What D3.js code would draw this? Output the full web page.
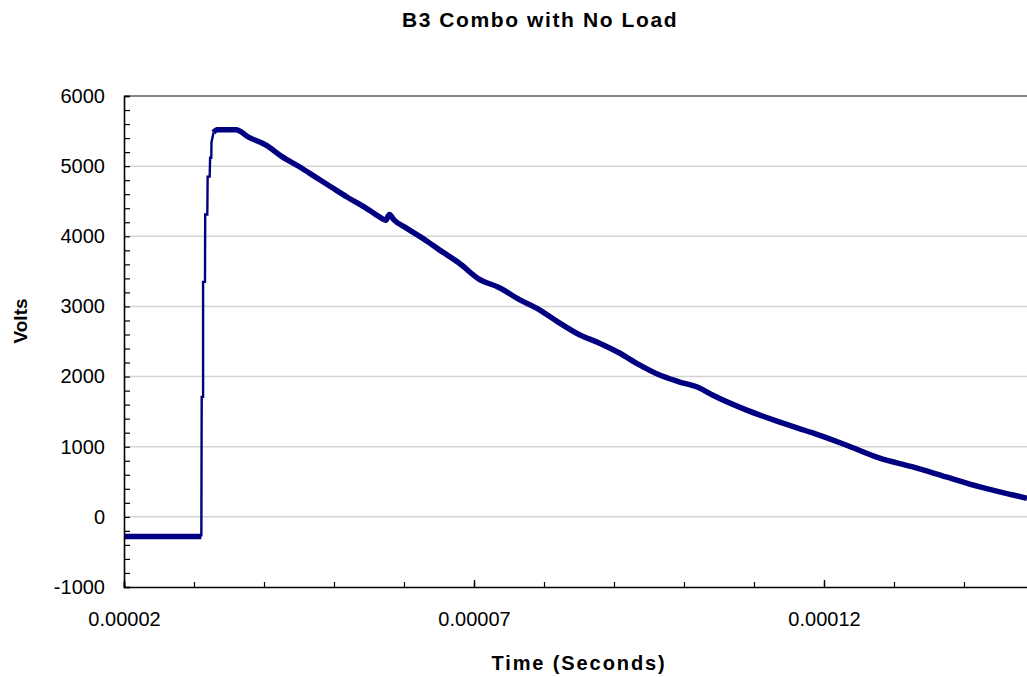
<!DOCTYPE html>
<html>
<head>
<meta charset="utf-8">
<script src="https://cdn.jsdelivr.net/npm/d3@7/dist/d3.min.js"></script>
<style>
  body { margin: 0; background: #fff; }
  svg { display: block; font-family: Arial, "Liberation Sans", sans-serif; }
</style>
</head>
<body>
<svg id="chart" width="1027" height="677"></svg>
<script>
// time in seconds, voltage in volts
var times = [
    20.0e-6, 25.0e-6, 31.05e-6, 31.1e-6, 31.3e-6, 31.3e-6, 31.57e-6, 31.6e-6,
    31.9e-6, 31.95e-6, 32.24e-6, 32.3e-6, 32.47e-6, 32.5e-6, 32.79e-6, 33.3e-6,
    36.0e-6, 37.86e-6, 40.29e-6, 42.57e-6, 45.0e-6, 47.43e-6, 49.71e-6, 51.86e-6,
    54.3e-6, 56.43e-6, 57.4e-6, 57.9e-6, 58.6e-6, 60.29e-6, 63.29e-6, 65.0e-6,
    67.86e-6, 70.71e-6, 73.57e-6, 76.43e-6, 79.29e-6, 82.14e-6, 85.0e-6, 87.86e-6,
    90.71e-6, 93.57e-6, 96.43e-6, 99.29e-6, 102.14e-6, 104.0e-6, 108.86e-6, 113.57e-6,
    118.29e-6, 123.14e-6, 127.86e-6, 132.57e-6, 137.43e-6, 142.14e-6, 146.86e-6, 149.0e-6
];
var volts = [
    -280, -280, -280, 1710, 1710, 3350, 3350, 4310,
    4310, 4850, 4850, 5120, 5120, 5340, 5480, 5520,
    5520, 5410, 5300, 5135, 4995, 4840, 4695, 4560,
    4420, 4280, 4230, 4310, 4230, 4120, 3930, 3810,
    3620, 3390, 3270, 3100, 2955, 2770, 2600, 2480,
    2340, 2170, 2025, 1925, 1840, 1740, 1525, 1355,
    1200, 1025, 840, 715, 570, 430, 315, 265
];
// the sharp rise is drawn thin, the noisy parts as a wide band
var riseStart = 31.05e-6;
var riseEnd = 32.79e-6;

var yTicks = [-1000, 0, 1000, 2000, 3000, 4000, 5000, 6000];
var yMinorStep = 200;
var xLabelTicks = [0.00002, 0.00007, 0.00012];
var xMinorStep = 0.00001;

var title = "B3 Combo with No Load";
var xTitle = "Time (Seconds)";
var yTitle = "Volts";

var svg = d3.select("#chart");
var plotLeft = 124, plotRight = 1034, plotTop = 96, plotBottom = 587;

var x = d3.scaleLinear().domain([0.00002, 0.00015]).range([plotLeft, plotRight]);
var y = d3.scaleLinear().domain([-1000, 6000]).range([plotBottom, plotTop]);

// gridlines
svg.append("g").selectAll("line")
    .data(yTicks.filter(function (d) { return d > -1000; }))
    .enter().append("line")
    .attr("x1", plotLeft).attr("x2", plotRight)
    .attr("y1", function (d) { return y(d); })
    .attr("y2", function (d) { return y(d); })
    .attr("stroke", function (d) { return d === 6000 ? "#858585" : "#d4d4d4"; })
    .attr("stroke-width", function (d) { return d === 6000 ? 2.2 : 1.5; });

// trace
var pts = times.map(function (t, i) { return [t, volts[i]]; });
var line = d3.line()
    .x(function (d) { return x(d[0]); })
    .y(function (d) { return y(d[1]); });
var smooth = d3.line()
    .curve(d3.curveMonotoneX)
    .x(function (d) { return x(d[0]); })
    .y(function (d) { return y(d[1]); });

svg.append("defs").append("clipPath").attr("id", "plotclip")
    .append("rect").attr("x", plotLeft).attr("y", plotTop - 10)
    .attr("width", plotRight - plotLeft).attr("height", plotBottom - plotTop + 10);

var traceG = svg.append("g").attr("clip-path", "url(#plotclip)");
var rise = pts.filter(function (d) { return d[0] >= riseStart && d[0] <= riseEnd + 1e-9; });
traceG.append("path")
    .attr("d", line(rise))
    .attr("fill", "none")
    .attr("stroke", "#000080")
    .attr("stroke-width", 2.4);

var before = pts.filter(function (d) { return d[0] <= riseStart; });
var after = pts.filter(function (d) { return d[0] >= riseEnd; });
[before, after].forEach(function (seg) {
    traceG.append("path")
        .attr("d", smooth(seg))
        .attr("fill", "none")
        .attr("stroke", "#000080")
        .attr("stroke-width", 5.5)
        .attr("stroke-linejoin", "round");
});

// y axis: minor ticks then labels
var yMinor = d3.range(-1000, 6000 + 1, yMinorStep);
svg.append("g")
    .attr("transform", "translate(" + plotLeft + ",0)")
    .call(d3.axisLeft(y).tickValues(yMinor).tickSize(-6).tickFormat(""))
    .call(function (g) {
        g.select(".domain").attr("stroke", "#000").attr("stroke-width", 1.6);
        g.selectAll(".tick line").attr("stroke", "#000").attr("stroke-width", 1.2);
    });
svg.append("g")
    .attr("transform", "translate(" + plotLeft + ",0)")
    .call(d3.axisLeft(y).tickValues(yTicks).tickSize(0).tickPadding(19)
        .tickFormat(function (d) { return String(d); }))
    .call(function (g) {
        g.select(".domain").remove();
        g.selectAll("text").attr("font-size", 20).attr("fill", "#000")
            .attr("font-family", "Arial, 'Liberation Sans', sans-serif");
    });

// x axis
var xMinor = d3.range(0.00002, 0.00015 + 1e-9, xMinorStep);
svg.append("g")
    .attr("transform", "translate(0," + plotBottom + ")")
    .call(d3.axisBottom(x).tickValues(xMinor).tickSize(-5).tickFormat(""))
    .call(function (g) {
        g.select(".domain").attr("stroke", "#000").attr("stroke-width", 1.6);
        g.selectAll(".tick line").attr("stroke", "#000").attr("stroke-width", 1.2);
    });
svg.append("g")
    .attr("transform", "translate(0," + plotBottom + ")")
    .call(d3.axisBottom(x).tickValues(xLabelTicks).tickSize(-7).tickPadding(25)
        .tickFormat(function (d) { return d.toFixed(5); }))
    .call(function (g) {
        g.select(".domain").remove();
        g.selectAll(".tick line").attr("stroke", "#000").attr("stroke-width", 1.4);
        g.selectAll("text").attr("font-size", 20).attr("fill", "#000")
            .attr("font-family", "Arial, 'Liberation Sans', sans-serif");
    });

// titles
svg.append("text")
    .attr("x", 540).attr("y", 27)
    .attr("text-anchor", "middle")
    .attr("font-size", 21).attr("font-weight", "bold")
    .attr("letter-spacing", 1.6)
    .text(title);

svg.append("text")
    .attr("x", 579).attr("y", 670)
    .attr("text-anchor", "middle")
    .attr("font-size", 20).attr("font-weight", "bold")
    .attr("letter-spacing", 1.9)
    .text(xTitle);

svg.append("text")
    .attr("transform", "translate(27,321) rotate(-90)")
    .attr("text-anchor", "middle")
    .attr("font-size", 19).attr("font-weight", "bold")
    .text(yTitle);
</script>
</body>
</html>
